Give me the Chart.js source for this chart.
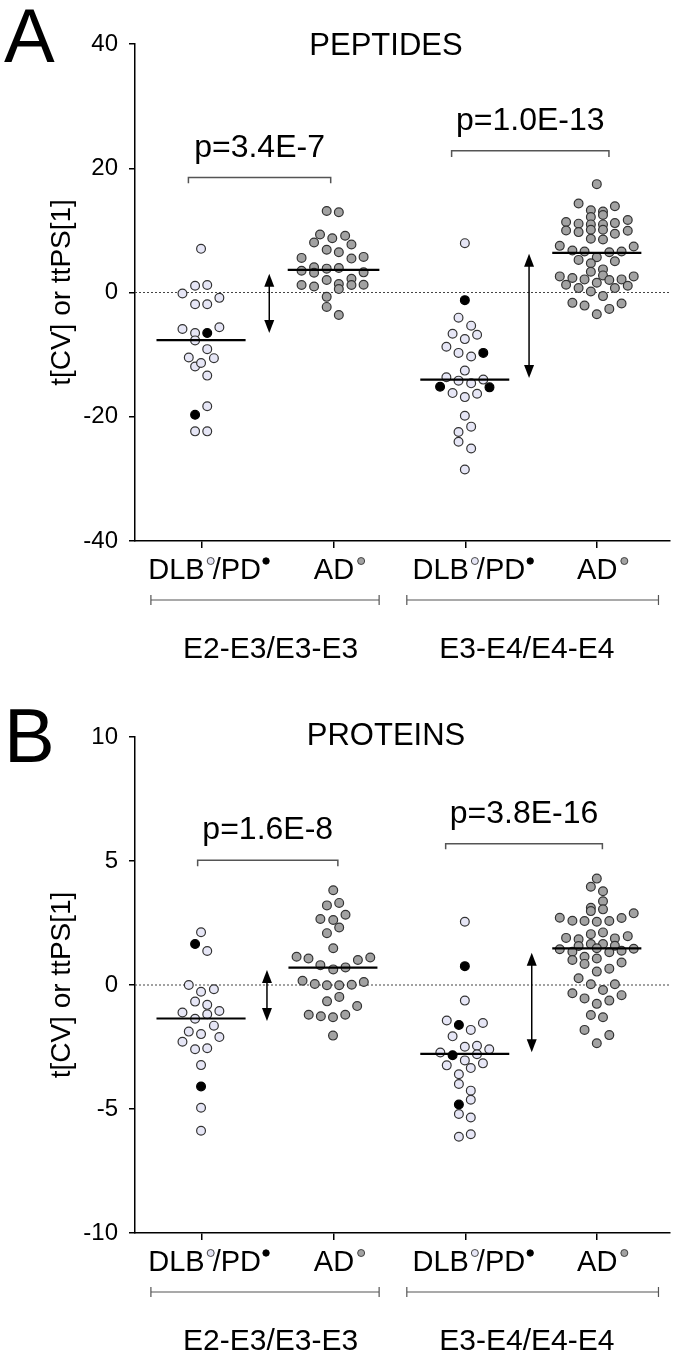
<!DOCTYPE html>
<html>
<head>
<meta charset="utf-8">
<script src="https://cdn.jsdelivr.net/npm/chart.js@4.4.0/dist/chart.umd.min.js"></script>
<style>
  html, body { margin: 0; padding: 0; background: #fff; }
  .panel { position: relative; width: 675px; height: 677px; }
</style>
</head>
<body>
<div class="panel"><canvas id="chartA"></canvas></div>
<div class="panel"><canvas id="chartB"></canvas></div>
<script>
const FONT = '"Liberation Sans", Arial, Helvetica, sans-serif'

// category tick positions on the x axis (DLB/PD, AD, DLB/PD, AD)
const catPos = [1.073, 2.165, 3.249, 4.333]
const catKinds = ['dlb', 'ad', 'dlb', 'ad']
const groupNames = ['E2-E3/E3-E3', 'E3-E4/E4-E4']
const groupCenters = [1.644, 3.755]
const groupSpans = [[0.658, 2.538], [2.766, 4.839]]

// ---------- A: PEPTIDES ----------
const pepDlb1 = [[1.071,7.03],[1.022,1.08],[1.122,1.20],[0.918,-0.16],[1.222,-0.86],[1.022,-1.88],[1.122,-1.88],
  [0.918,-5.88],[1.022,-6.53],[1.222,-5.6],[1.022,-7.71],[1.122,-9.12],[0.970,-10.46],[1.177,-10.57],[1.022,-11.92],
  [1.071,-11.34],[1.122,-13.38],[1.122,-18.3],[1.022,-22.35],[1.122,-22.35]]
const pepPd1 = [[1.122,-6.53],[1.022,-19.69]]
const pepAd1 = [[2.106,13.12],[2.206,12.91],[2.051,9.34],[2.152,8.74],[2.258,9.13],[2.002,8.05],[2.310,7.72],
  [2.106,6.87],[2.206,6.48],[1.899,5.57],[2.310,5.46],[2.410,5.73],[1.899,3.51],[2.002,4.05],[2.002,3.19],
  [2.106,3.84],[2.206,3.95],[2.410,3.24],[2.106,2.01],[2.310,2.22],[1.899,1.20],[2.002,0.97],[2.206,1.36],
  [2.206,0.55],[2.310,1.20],[2.410,1.25],[2.106,-0.70],[2.106,-2.32],[2.206,-3.61]]
const pepDlb2 = [[3.244,7.94],[3.192,-4.05],[3.296,-5.34],[3.143,-6.64],[3.345,-6.80],[3.244,-7.50],[3.092,-8.74],
  [3.192,-9.72],[3.296,-10.30],[3.244,-12.57],[3.092,-13.65],[3.192,-14.19],[3.296,-14.62],[3.396,-14.02],
  [3.143,-16.19],[3.244,-16.84],[3.345,-16.29],[3.244,-19.85],[3.296,-21.59],[3.192,-22.45],[3.192,-24.02],
  [3.296,-25.10],[3.244,-28.50]]
const pepPd2 = [[3.244,-1.23],[3.396,-9.72],[3.040,-15.16],[3.447,-15.27]]
const pepAd2 = [[4.331,17.44],[4.181,14.32],[4.480,13.88],[4.282,13.23],[4.382,13.02],[4.282,12.15],[4.382,12.47],
  [4.078,11.34],[4.181,11.08],[4.282,10.96],[4.382,10.96],[4.480,11.17],[4.586,11.66],
  [4.078,9.99],[4.181,9.72],[4.282,10.11],[4.382,10.11],[4.480,9.46],[4.586,9.94],
  [4.282,8.65],[4.382,8.53],[4.026,7.51],[4.130,6.75],[4.230,6.59],[4.434,6.48],[4.535,6.59],[4.635,7.40],
  [4.331,5.67],[4.181,5.25],[4.480,5.02],[4.282,4.70],[4.282,3.35],[4.382,3.72],
  [4.026,2.59],[4.130,2.33],[4.230,2.11],[4.382,2.75],[4.434,2.01],[4.535,2.11],[4.635,2.59],
  [4.331,1.57],[4.078,1.25],[4.586,1.08],[4.181,0.71],[4.480,0.71],[4.282,0.16],[4.382,-0.58],
  [4.130,-1.67],[4.230,-2.11],[4.434,-2.64],[4.535,-1.78],[4.331,-3.50]]
const pepMedians = [-7.66, 3.63, -14.02, 6.38]
const pepMedianX = [[0.704,1.438],[1.785,2.540],[2.877,3.610],[3.964,4.698]]
const pepArrows = [[1.633, 3.03, -6.5], [3.773, 6.22, -13.77]]
const pepBrackets = [[0.967, 2.139, 18.5, 17.6], [3.135, 4.431, 22.8, 21.8]]
const pepPvals = ['p=3.4E-7', 'p=1.0E-13']

// ---------- B: PROTEINS ----------
const proDlb1 = [[1.071,2.13],[1.122,1.37],[0.970,0.00],[1.071,-0.27],[1.177,-0.17],[1.022,-0.67],[1.122,-0.80],
  [0.918,-1.11],[1.122,-1.18],[1.222,-1.05],[1.022,-1.36],[1.177,-1.64],[0.970,-1.88],[1.071,-1.98],[1.222,-2.10],
  [0.918,-2.29],[1.022,-2.59],[1.122,-2.55],[1.071,-3.23],[1.071,-4.95],[1.071,-5.88]]
const proPd1 = [[1.022,1.65],[1.071,-4.09]]
const proAd1 = [[2.160,3.82],[2.108,3.21],[2.209,3.31],[2.054,2.66],[2.160,2.62],[2.261,2.83],[2.209,2.32],
  [2.108,2.09],[2.160,1.48],[1.858,1.14],[1.956,1.07],[2.363,1.01],[2.465,1.11],[2.054,0.80],[2.160,0.63],
  [2.261,0.71],[1.907,0.17],[2.008,0.04],[2.108,-0.01],[2.209,-0.01],[2.312,0.01],[2.412,0.12],
  [2.109,-0.66],[2.210,-0.48],[2.357,-0.85],[1.958,-1.20],[2.058,-1.26],[2.158,-1.30],[2.259,-1.20],[2.158,-2.04]]
const proDlb2 = [[3.244,2.55],[3.244,-0.63],[3.095,-1.43],[3.393,-1.53],[3.293,-1.81],[3.143,-2.07],[3.244,-2.49],
  [3.344,-2.45],[3.445,-2.59],[3.042,-2.72],[3.344,-2.79],[3.244,-3.04],[3.095,-3.24],[3.293,-3.35],[3.393,-3.16],
  [3.195,-3.60],[3.195,-3.99],[3.293,-4.26],[3.293,-4.63],[3.195,-5.20],[3.293,-5.34],[3.293,-6.02],[3.195,-6.12]]
const proPd2 = [[3.244,0.76],[3.195,-1.61],[3.143,-2.83],[3.195,-4.82]]
const proAd2 = [[4.331,4.29],[4.282,3.96],[4.382,3.78],[4.382,3.38],[4.282,3.11],[4.282,2.98],[4.382,3.05],[4.635,2.89],
  [4.026,2.71],[4.130,2.59],[4.230,2.58],[4.331,2.55],[4.434,2.58],[4.535,2.70],[4.282,2.05],[4.382,2.12],
  [4.078,1.90],[4.181,1.84],[4.480,1.88],[4.586,1.97],[4.181,1.57],[4.282,1.65],[4.382,1.65],[4.480,1.58],
  [4.026,1.44],[4.130,1.34],[4.331,1.48],[4.434,1.32],[4.535,1.38],[4.635,1.46],
  [4.130,1.01],[4.230,1.14],[4.230,0.85],[4.331,1.07],[4.535,0.91],[4.331,0.54],[4.434,0.66],[4.181,0.27],
  [4.282,0.03],[4.480,0.03],[4.130,-0.33],[4.382,-0.20],[4.535,-0.41],[4.230,-0.54],[4.434,-0.63],[4.331,-0.76],
  [4.282,-1.21],[4.382,-1.30],[4.230,-1.81],[4.434,-2.02],[4.331,-2.35]]
const proMedians = [-1.35, 0.70, -2.78, 1.48]
const proMedianX = [[0.704,1.438],[1.791,2.524],[2.877,3.610],[3.964,4.698]]
const proArrows = [[1.614, 0.6, -1.45], [3.795, 1.30, -2.71]]
const proBrackets = [[1.043, 2.198, 5.03, 4.79], [3.086, 4.377, 5.70, 5.47]]
const proPvals = ['p=1.6E-8', 'p=3.8E-16']

const xMin = 0.527, xMax = 4.929

const dlbFill = '#e6e6f6', adFill = '#a2a2a2', edge = '#333'

function pts(arr) { return arr.map(p => ({x: p[0], y: p[1]})) }

function dotSet(arr, fill, line) {
  return { data: pts(arr), backgroundColor: fill, borderColor: line, borderWidth: 1.2,
           pointRadius: 4.4, order: 1 }
}

function smallDot(ctx, x, y, r, fill) {
  ctx.beginPath(); ctx.arc(x, y, r, 0, Math.PI * 2)
  ctx.fillStyle = fill; ctx.fill()
  ctx.lineWidth = 0.9; ctx.strokeStyle = fill === '#000' ? '#000' : edge; ctx.stroke()
}

function drawCat(ctx, kind, x, y) {
  ctx.font = '29px ' + FONT
  ctx.textAlign = 'left'; ctx.textBaseline = 'alphabetic'; ctx.fillStyle = '#000'
  if (kind === 'dlb') {
    ctx.fillText('DLB', x, y)
    let w = ctx.measureText('DLB').width
    smallDot(ctx, x + w + 6, y - 18, 3.5, dlbFill)
    ctx.fillStyle = '#000'
    ctx.fillText('/PD', x + w + 8, y)
    let w2 = ctx.measureText('/PD').width
    smallDot(ctx, x + w + 8 + w2 + 5, y - 18, 3.2, '#000')
  } else {
    ctx.fillText('AD', x, y)
    let w = ctx.measureText('AD').width
    smallDot(ctx, x + w + 7, y - 18, 3.5, adFill)
  }
}

const decor = {
  id: 'decor',
  afterDraw(chart, args, o) {
    const ctx = chart.ctx, xs = chart.scales.x, ys = chart.scales.y, area = chart.chartArea
    ctx.save()
    ctx.fillStyle = '#000'
    // panel letter and title
    ctx.textBaseline = 'alphabetic'
    ctx.textAlign = 'left'
    ctx.font = '76px ' + FONT
    ctx.fillText(o.letter, 4, o.letterY)
    ctx.textAlign = 'center'
    ctx.font = '31px ' + FONT
    ctx.fillText(o.title, 386, o.titleY)
    // y axis title
    ctx.save()
    ctx.translate(62, (area.top + area.bottom) / 2)
    ctx.rotate(-Math.PI / 2)
    ctx.textBaseline = 'middle'
    ctx.font = '28px ' + FONT
    ctx.fillText('t[CV] or ttPS[1]', 0, 0)
    ctx.restore()

    // double arrows
    ctx.strokeStyle = '#000'; ctx.fillStyle = '#000'; ctx.lineWidth = 1.5
    o.arrows.forEach(a => {
      const x = xs.getPixelForValue(a[0]), y1 = ys.getPixelForValue(a[1]), y2 = ys.getPixelForValue(a[2])
      ctx.beginPath(); ctx.moveTo(x, y1 + 10); ctx.lineTo(x, y2 - 10); ctx.stroke()
      ctx.beginPath(); ctx.moveTo(x, y1); ctx.lineTo(x - 5, y1 + 13); ctx.lineTo(x + 5, y1 + 13); ctx.closePath(); ctx.fill()
      ctx.beginPath(); ctx.moveTo(x, y2); ctx.lineTo(x - 5, y2 - 13); ctx.lineTo(x + 5, y2 - 13); ctx.closePath(); ctx.fill()
    })

    // significance brackets and p values
    ctx.strokeStyle = '#555'; ctx.lineWidth = 1.5
    o.brackets.forEach((b, i) => {
      const x1 = xs.getPixelForValue(b[0]), x2 = xs.getPixelForValue(b[1])
      const y = ys.getPixelForValue(b[2]), yt = ys.getPixelForValue(b[3])
      ctx.beginPath(); ctx.moveTo(x1, yt); ctx.lineTo(x1, y); ctx.lineTo(x2, y); ctx.lineTo(x2, yt); ctx.stroke()
      ctx.fillStyle = '#000'; ctx.textAlign = 'center'; ctx.textBaseline = 'alphabetic'
      ctx.font = '32px ' + FONT
      ctx.fillText(o.pvals[i], (x1 + x2) / 2, y - 21)
    })

    // category labels under the axis
    catPos.forEach((c, i) => {
      const x = xs.getPixelForValue(c)
      if (catKinds[i] === 'dlb') drawCat(ctx, 'dlb', x - 53, area.bottom + 38)
      else drawCat(ctx, 'ad', x - 20, area.bottom + 38)
    })

    // genotype group brackets and names
    ctx.strokeStyle = '#555'; ctx.lineWidth = 1.2
    groupSpans.forEach((g, i) => {
      const x1 = xs.getPixelForValue(g[0]), x2 = xs.getPixelForValue(g[1]), y = area.bottom + 59
      ctx.beginPath(); ctx.moveTo(x1, y); ctx.lineTo(x2, y)
      ctx.moveTo(x1, y - 5); ctx.lineTo(x1, y + 5)
      ctx.moveTo(x2, y - 5); ctx.lineTo(x2, y + 5); ctx.stroke()
      ctx.fillStyle = '#000'; ctx.textAlign = 'center'; ctx.textBaseline = 'alphabetic'
      ctx.font = '30px ' + FONT
      ctx.fillText(groupNames[i], xs.getPixelForValue(groupCenters[i]), area.bottom + 117)
    })
    ctx.restore()
  }
}

function makePanel(id, p) {
  const datasets = []
  // dotted zero line
  datasets.push({ data: [{x: xMin, y: 0}, {x: xMax, y: 0}], showLine: true, pointRadius: 0,
                  borderColor: '#444', borderWidth: 1, borderDash: [2, 2], order: 3 })
  p.medians.forEach((m, i) => {
    datasets.push({ data: [{x: p.medianX[i][0], y: m}, {x: p.medianX[i][1], y: m}], showLine: true,
                    pointRadius: 0, borderColor: '#000', borderWidth: 2.2, order: 0 })
  })
  datasets.push(dotSet(p.dlb1, dlbFill, edge))
  datasets.push(dotSet(p.pd1, '#000', '#000'))
  datasets.push(dotSet(p.ad1, adFill, edge))
  datasets.push(dotSet(p.dlb2, dlbFill, edge))
  datasets.push(dotSet(p.pd2, '#000', '#000'))
  datasets.push(dotSet(p.ad2, adFill, edge))

  return new Chart(document.getElementById(id), {
    type: 'scatter',
    data: { datasets: datasets },
    options: {
      responsive: true,
      maintainAspectRatio: false,
      animation: false,
      layout: { padding: { top: p.top, left: 0, right: 0, bottom: 0 } },
      plugins: {
        legend: { display: false },
        tooltip: { enabled: false },
        decor: p.decor
      },
      scales: {
        x: {
          type: 'linear', min: xMin, max: xMax,
          afterBuildTicks: s => { s.ticks = catPos.map(v => ({ value: v })) },
          afterFit: s => { s.height = p.xHeight },
          ticks: { display: false },
          grid: { drawOnChartArea: false, drawTicks: true, tickLength: 7, color: '#000', lineWidth: 1.5 },
          border: { display: true, color: '#000', width: 1.5 }
        },
        y: {
          min: p.yMin, max: p.yMax,
          afterFit: s => { s.width = 135 },
          ticks: { stepSize: p.step, color: '#000', padding: 11, font: { size: 24, family: FONT } },
          grid: { drawOnChartArea: false, drawTicks: true, tickLength: 6, color: '#000', lineWidth: 1.5 },
          border: { display: true, color: '#000', width: 1.5 }
        }
      }
    },
    plugins: [decor]
  })
}

makePanel('chartA', {
  dlb1: pepDlb1, pd1: pepPd1, ad1: pepAd1, dlb2: pepDlb2, pd2: pepPd2, ad2: pepAd2,
  medians: pepMedians, medianX: pepMedianX,
  yMin: -40, yMax: 40, step: 20, top: 44, xHeight: 136,
  decor: { letter: 'A', letterY: 62, title: 'PEPTIDES', titleY: 55,
           arrows: pepArrows, brackets: pepBrackets, pvals: pepPvals }
})

makePanel('chartB', {
  dlb1: proDlb1, pd1: proPd1, ad1: proAd1, dlb2: proDlb2, pd2: proPd2, ad2: proAd2,
  medians: proMedians, medianX: proMedianX,
  yMin: -10, yMax: 10, step: 5, top: 60, xHeight: 121,
  decor: { letter: 'B', letterY: 85, title: 'PROTEINS', titleY: 68,
           arrows: proArrows, brackets: proBrackets, pvals: proPvals }
})
</script>
</body>
</html>
